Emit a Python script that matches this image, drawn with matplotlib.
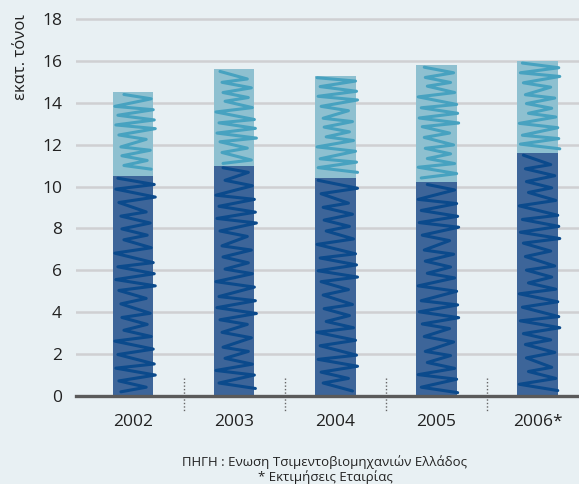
import numpy as np
import matplotlib
matplotlib.use("Agg")
import matplotlib.pyplot as plt

plt.rcParams['font.family'] = ['Open Sans', 'DejaVu Sans']

years = ["2002", "2003", "2004", "2005", "2006*"]
lower = [10.5, 11.0, 10.4, 10.2, 11.6]
total = [14.5, 15.6, 15.3, 15.8, 16.0]
upper = [t - b for t, b in zip(total, lower)]
yticks = [0, 2, 4, 6, 8, 10, 12, 14, 16, 18]

BG = "#e8f0f3"
DARK = "#3d6599"
LIGHT = "#8ec0d0"
DARK_INK = "#0b4a8c"
LIGHT_INK = "#47a2c0"

fig = plt.figure(figsize=(5.79, 4.84), dpi=100, facecolor=BG)
W, H = 579, 484
ax = fig.add_axes([76 / W, 88 / H, 503 / W, 387.4 / H])
ax.set_facecolor(BG)

x = np.arange(len(years))
bw = 0.40
ax.bar(x, lower, width=bw, color=DARK, zorder=2, linewidth=0)
ax.bar(x, upper, bottom=lower, width=bw, color=LIGHT, zorder=2, linewidth=0)

# irregular pen-stroke pattern cycled through the zigzag vertices
STEPS = [0.30, 0.22, 0.38, 0.26, 0.45, 0.20, 0.33, 0.28]
LEFT = [0.05, 0.09, 0.03, 0.11, 0.06, 0.02, 0.08]
RIGHT = [-0.03, 0.01, -0.06, 0.02, -0.02, -0.07, 0.0]


def scribble(xc, y0, y1, color, scale, shift):
    """Hand-drawn zigzag filling a bar segment."""
    half = bw / 2
    xs, ys = [], []
    y = y1 - 0.1
    i = 0
    while y > y0 + 0.1:
        k = i + shift
        if i % 2 == 0:
            xs.append(xc - half + LEFT[k % len(LEFT)])
        else:
            xs.append(xc + half + RIGHT[k % len(RIGHT)])
        ys.append(y)
        y -= STEPS[k % len(STEPS)] * scale
        i += 1
    ax.plot(xs, ys, color=color, lw=2.2, solid_capstyle='round',
            solid_joinstyle='round', zorder=3, clip_on=False)


for i in range(len(years)):
    scribble(x[i], 0, lower[i], DARK_INK, 1.0, i)
    scribble(x[i], lower[i], total[i], LIGHT_INK, 0.8, i + 3)

ax.set_xlim(-0.564, 4.41)
ax.set_ylim(0, 18.5)
ax.set_yticks(yticks)
ax.set_yticklabels([str(v) for v in yticks], fontsize=12.5, color="#222222")
ax.set_xticks(x)
ax.set_xticklabels(years, fontsize=12.5, color="#222222")
ax.tick_params(axis='y', length=0, pad=10)
ax.tick_params(axis='x', length=0, pad=13)

for v in yticks[1:]:
    ax.axhline(v, color="#cfd0d2", lw=1.8, zorder=1)

for s in ["top", "right", "left"]:
    ax.spines[s].set_visible(False)
ax.spines["bottom"].set_color("#5a5a5a")
ax.spines["bottom"].set_linewidth(2.4)
ax.spines["bottom"].set_zorder(4)

for sx in x[:-1] + 0.5:
    ax.plot([sx, sx], [0.86, -0.72], color="#666666", lw=1.0,
            linestyle=(0, (1, 1.5)), clip_on=False, zorder=4)

fig.text(21 / W, 1 - 57 / H, "εκατ. τόνοι", rotation=90, ha='center',
         va='center', fontsize=12, color="#222222")

fig.text(325 / W, 1 - 462 / H, "ΠΗΓΗ : Ενωση Τσιμεντοβιομηχανιών Ελλάδος",
         ha='center', va='center', fontsize=9.5, color="#222222")
fig.text(325 / W, 1 - 477 / H, "* Εκτιμήσεις Εταιρίας",
         ha='center', va='center', fontsize=9.5, color="#222222")

fig.savefig("out.png", dpi=100, facecolor=BG)
